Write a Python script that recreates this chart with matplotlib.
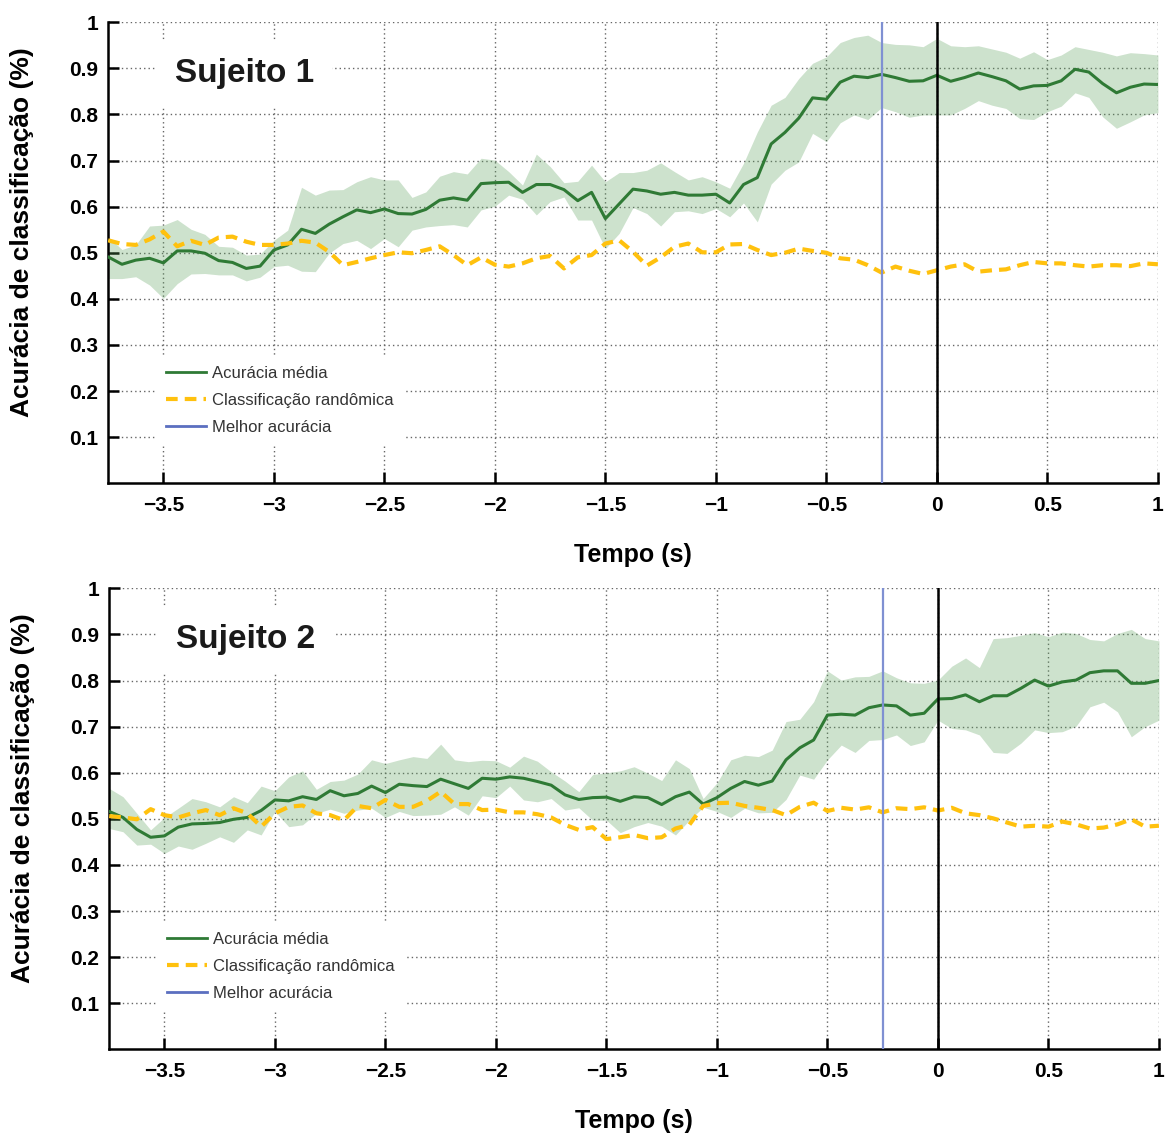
import numpy as np
import matplotlib
matplotlib.use("Agg")
from matplotlib import pyplot as plt
from matplotlib.lines import Line2D

plt.rcParams['font.family'] = ['Liberation Sans', 'DejaVu Sans']

# time axis: one sample every 1/16 s from -3.75 s to 1 s
t = -3.75 + 0.0625 * np.arange(77)

# Sujeito 1
mean1 = [0.491, 0.475, 0.484, 0.488, 0.478, 0.504, 0.504, 0.499, 0.483, 0.479,
         0.466, 0.471, 0.506, 0.517, 0.551, 0.542, 0.562, 0.578, 0.593, 0.587,
         0.595, 0.585, 0.584, 0.594, 0.614, 0.619, 0.614, 0.650, 0.652, 0.653,
         0.631, 0.648, 0.648, 0.637, 0.613, 0.631, 0.574, 0.606, 0.638, 0.634,
         0.627, 0.631, 0.625, 0.625, 0.627, 0.608, 0.648, 0.663, 0.736, 0.761,
         0.792, 0.836, 0.833, 0.870, 0.883, 0.880, 0.887, 0.880, 0.872, 0.873,
         0.885, 0.872, 0.880, 0.890, 0.882, 0.873, 0.855, 0.862, 0.863, 0.873,
         0.898, 0.892, 0.867, 0.847, 0.859, 0.866, 0.865]
upper1 = [0.535, 0.507, 0.517, 0.558, 0.560, 0.572, 0.551, 0.540, 0.514, 0.512,
          0.495, 0.497, 0.527, 0.549, 0.642, 0.625, 0.636, 0.637, 0.654, 0.665,
          0.658, 0.658, 0.620, 0.632, 0.666, 0.676, 0.671, 0.705, 0.701, 0.676,
          0.647, 0.714, 0.687, 0.652, 0.655, 0.690, 0.654, 0.674, 0.674, 0.679,
          0.695, 0.676, 0.658, 0.665, 0.654, 0.640, 0.694, 0.762, 0.820, 0.837,
          0.878, 0.911, 0.925, 0.956, 0.967, 0.972, 0.956, 0.952, 0.951, 0.947,
          0.965, 0.949, 0.947, 0.949, 0.942, 0.935, 0.922, 0.936, 0.919, 0.929,
          0.947, 0.941, 0.935, 0.927, 0.934, 0.932, 0.929]
lower1 = [0.444, 0.444, 0.448, 0.430, 0.401, 0.433, 0.454, 0.455, 0.452, 0.452,
          0.439, 0.447, 0.470, 0.473, 0.460, 0.459, 0.499, 0.520, 0.527, 0.509,
          0.531, 0.513, 0.549, 0.556, 0.559, 0.561, 0.556, 0.593, 0.601, 0.625,
          0.616, 0.582, 0.611, 0.621, 0.571, 0.571, 0.509, 0.542, 0.598, 0.585,
          0.558, 0.589, 0.591, 0.585, 0.596, 0.578, 0.608, 0.567, 0.649, 0.679,
          0.697, 0.759, 0.741, 0.782, 0.799, 0.789, 0.815, 0.806, 0.794, 0.799,
          0.799, 0.799, 0.813, 0.830, 0.820, 0.813, 0.791, 0.789, 0.806, 0.818,
          0.847, 0.837, 0.795, 0.770, 0.784, 0.799, 0.804]
rand1 = [0.527, 0.519, 0.517, 0.529, 0.546, 0.514, 0.526, 0.517, 0.533, 0.535,
         0.524, 0.517, 0.517, 0.520, 0.526, 0.522, 0.502, 0.473, 0.480, 0.488,
         0.495, 0.501, 0.499, 0.506, 0.514, 0.495, 0.473, 0.490, 0.474, 0.470,
         0.477, 0.488, 0.493, 0.466, 0.490, 0.495, 0.520, 0.527, 0.502, 0.472,
         0.490, 0.513, 0.520, 0.501, 0.501, 0.518, 0.519, 0.506, 0.495, 0.500,
         0.509, 0.504, 0.500, 0.488, 0.485, 0.473, 0.457, 0.470, 0.461, 0.454,
         0.462, 0.470, 0.475, 0.459, 0.462, 0.464, 0.473, 0.480, 0.477, 0.477,
         0.473, 0.470, 0.473, 0.473, 0.471, 0.477, 0.475]

# Sujeito 2
mean2 = [0.516, 0.503, 0.477, 0.460, 0.463, 0.482, 0.489, 0.490, 0.492, 0.499,
         0.503, 0.518, 0.541, 0.539, 0.548, 0.542, 0.561, 0.550, 0.555, 0.571,
         0.557, 0.575, 0.572, 0.570, 0.586, 0.576, 0.566, 0.588, 0.586, 0.591,
         0.588, 0.581, 0.573, 0.552, 0.542, 0.546, 0.547, 0.538, 0.548, 0.546,
         0.531, 0.548, 0.558, 0.532, 0.546, 0.566, 0.581, 0.573, 0.582, 0.628,
         0.654, 0.671, 0.725, 0.727, 0.725, 0.741, 0.747, 0.745, 0.725, 0.729,
         0.760, 0.761, 0.769, 0.754, 0.767, 0.767, 0.783, 0.801, 0.788, 0.797,
         0.801, 0.817, 0.821, 0.821, 0.794, 0.794, 0.800]
upper2 = [0.566, 0.548, 0.512, 0.476, 0.503, 0.523, 0.544, 0.537, 0.526, 0.548,
          0.535, 0.571, 0.561, 0.591, 0.604, 0.564, 0.581, 0.584, 0.597, 0.628,
          0.620, 0.628, 0.635, 0.631, 0.662, 0.628, 0.624, 0.627, 0.626, 0.612,
          0.636, 0.625, 0.602, 0.582, 0.559, 0.596, 0.600, 0.604, 0.613, 0.599,
          0.583, 0.628, 0.609, 0.544, 0.578, 0.628, 0.638, 0.635, 0.649, 0.711,
          0.716, 0.754, 0.821, 0.801, 0.808, 0.809, 0.821, 0.806, 0.795, 0.794,
          0.801, 0.831, 0.849, 0.828, 0.891, 0.893, 0.898, 0.904, 0.895, 0.905,
          0.902, 0.889, 0.886, 0.902, 0.911, 0.891, 0.886]
lower2 = [0.479, 0.472, 0.443, 0.445, 0.425, 0.441, 0.434, 0.447, 0.461, 0.449,
          0.476, 0.465, 0.516, 0.483, 0.487, 0.512, 0.521, 0.512, 0.519, 0.523,
          0.503, 0.516, 0.507, 0.508, 0.510, 0.526, 0.508, 0.550, 0.546, 0.571,
          0.541, 0.537, 0.544, 0.519, 0.524, 0.497, 0.497, 0.470, 0.483, 0.492,
          0.484, 0.465, 0.497, 0.525, 0.516, 0.503, 0.523, 0.513, 0.514, 0.542,
          0.595, 0.586, 0.628, 0.660, 0.644, 0.670, 0.672, 0.682, 0.659, 0.667,
          0.714, 0.696, 0.693, 0.682, 0.644, 0.642, 0.664, 0.693, 0.687, 0.689,
          0.701, 0.743, 0.753, 0.732, 0.678, 0.700, 0.714]
rand2 = [0.506, 0.503, 0.499, 0.521, 0.508, 0.503, 0.512, 0.519, 0.508, 0.523,
         0.512, 0.483, 0.512, 0.526, 0.529, 0.512, 0.508, 0.497, 0.528, 0.523,
         0.541, 0.526, 0.526, 0.539, 0.559, 0.532, 0.532, 0.519, 0.520, 0.514,
         0.514, 0.510, 0.503, 0.487, 0.476, 0.482, 0.456, 0.460, 0.465, 0.458,
         0.460, 0.479, 0.487, 0.528, 0.534, 0.535, 0.528, 0.524, 0.519, 0.508,
         0.526, 0.535, 0.517, 0.524, 0.520, 0.525, 0.514, 0.523, 0.521, 0.525,
         0.518, 0.524, 0.512, 0.508, 0.501, 0.492, 0.483, 0.485, 0.483, 0.494,
         0.488, 0.479, 0.481, 0.488, 0.499, 0.483, 0.485]

subjects = ["Sujeito 1", "Sujeito 2"]
best_time = [-0.25, -0.25]
xticks = [-3.5, -3, -2.5, -2, -1.5, -1, -0.5, 0, 0.5, 1]
yticks = [0.1, 0.2, 0.3, 0.4, 0.5, 0.6, 0.7, 0.8, 0.9, 1.0]

GREEN = "#2f7a35"
FILL = "#5aa05a"
GOLD = "#ffc10e"
BLUE = "#7f90d2"

fig = plt.figure(figsize=(11.69, 11.36), dpi=100)
ax1 = fig.add_axes([0.0925, 0.5746, 0.898, 0.4058])
ax2 = fig.add_axes([0.0934, 0.0763, 0.898, 0.4058])

data = [(mean1, upper1, lower1, rand1), (mean2, upper2, lower2, rand2)]

for ax, (m, up, lo, rnd), name, bt in zip([ax1, ax2], data, subjects, best_time):
    ax.fill_between(t, lo, up, color=FILL, alpha=0.3, linewidth=0, zorder=1)
    ax.plot(t, m, color=GREEN, linewidth=2.2, zorder=3)
    ax.plot(t, rnd, color=GOLD, linewidth=3.0, dashes=(2.8, 1.7), zorder=3)
    ax.axvline(bt, color=BLUE, linewidth=1.6, zorder=4)
    ax.axvline(0, color="black", linewidth=1.8, zorder=4)

    ax.set_xlim(-3.75, 1.0)
    ax.set_ylim(0, 1)
    ax.set_xticks(xticks)
    ax.set_xticklabels([("\u2212" + ("%g" % -v)) if v < 0 else "%g" % v for v in xticks])
    ax.set_yticks(yticks)
    ax.set_yticklabels(["%g" % v for v in yticks])
    ax.tick_params(direction="in", length=8, width=1.8, labelsize=15, pad=7)
    ax.tick_params(axis="x", pad=9)
    for lab in ax.get_xticklabels() + ax.get_yticklabels():
        lab.set_fontweight("bold")

    for s in ["top", "right"]:
        ax.spines[s].set_visible(False)
    for s in ["left", "bottom"]:
        ax.spines[s].set_linewidth(1.8)

    ax.grid(True, color="#666666", linestyle=(0, (1, 2.2)), linewidth=1.0)
    ax.set_axisbelow(True)

    ax.set_xlabel("Tempo (s)", fontsize=18, fontweight="bold", labelpad=20)
    ax.set_ylabel("Acurácia de classificação (%)", fontsize=19, fontweight="bold")
    ax.yaxis.set_label_coords(-0.0705, 0.545)

    ax.text(0.130, 0.888, name, transform=ax.transAxes, fontsize=24, fontweight="bold",
            color="#1a1a1a", ha="center", va="center", zorder=6,
            bbox=dict(boxstyle="square,pad=0.55", facecolor="white", edgecolor="none"))

    handles = [Line2D([], [], color=GREEN, linewidth=2.0),
               Line2D([], [], color=GOLD, linewidth=3.0, dashes=(2.8, 1.7)),
               Line2D([], [], color="#5b6fc0", linewidth=2.0)]
    leg = ax.legend(handles, ["Acurácia média", "Classificação randômica", "Melhor acurácia"],
                    loc="upper left", bbox_to_anchor=(0.046, 0.277), fontsize=12,
                    frameon=True, fancybox=False, framealpha=1.0, edgecolor="none",
                    handlelength=2.4, handletextpad=0.35, labelspacing=0.72,
                    borderpad=0.6, borderaxespad=0)
    leg.set_zorder(6)
    for txt in leg.get_texts():
        txt.set_color("#333333")

fig.savefig("out.png", dpi=100)
